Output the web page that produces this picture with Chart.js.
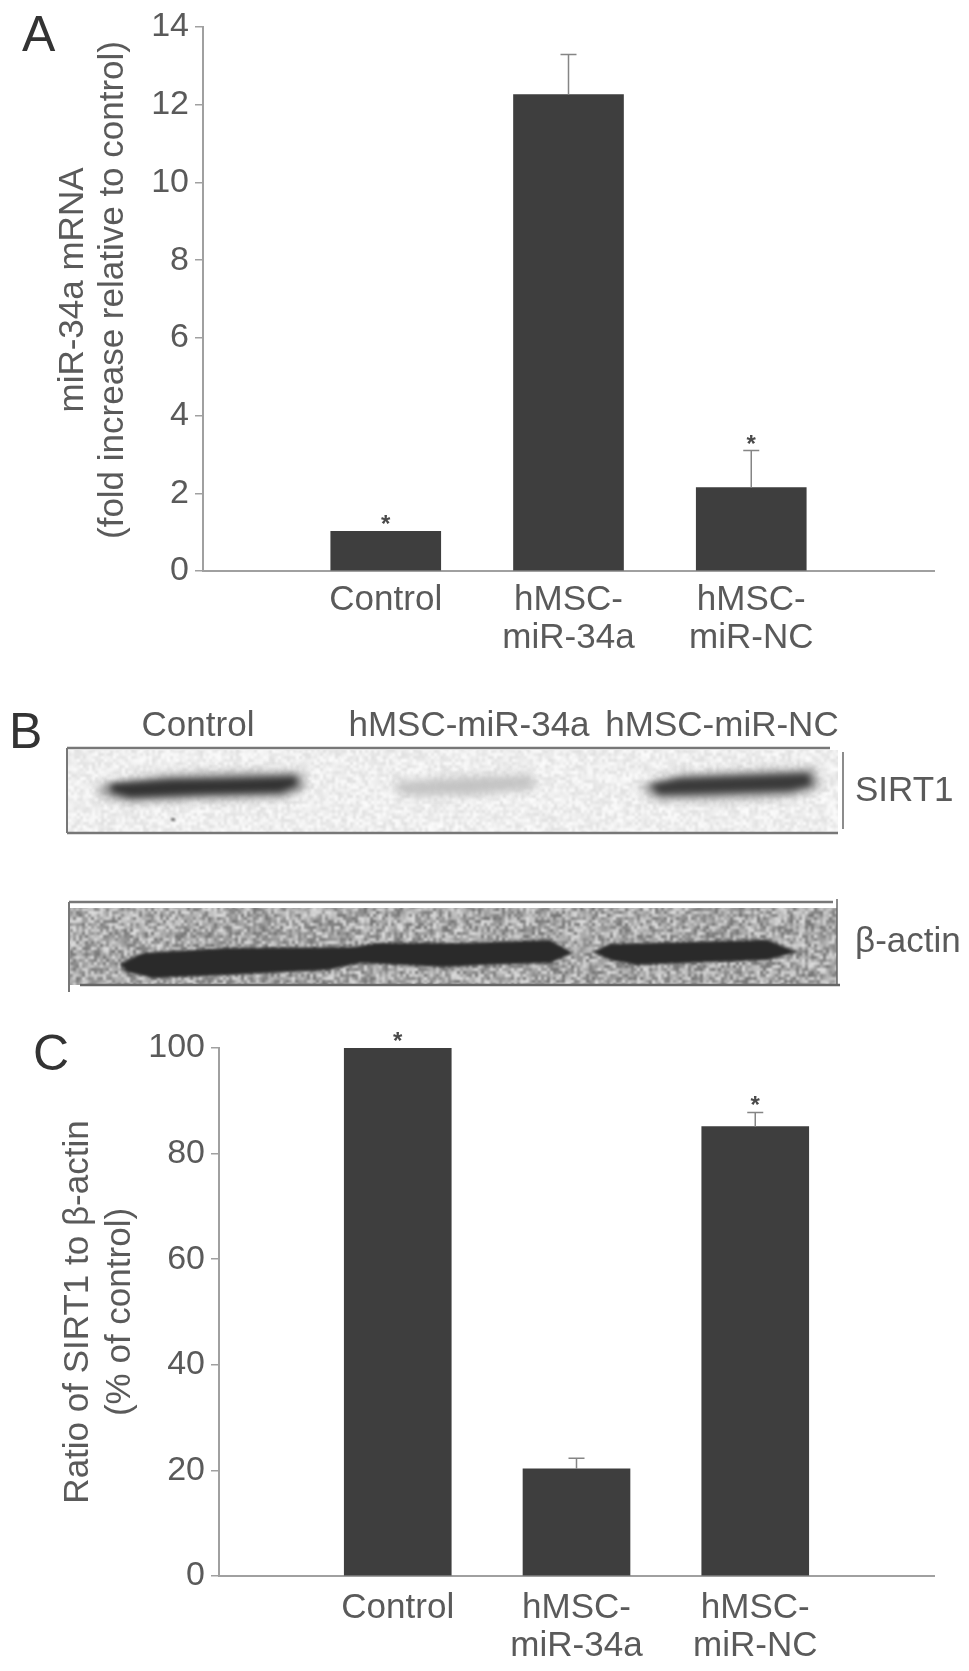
<!DOCTYPE html>
<html>
<head>
<meta charset="utf-8">
<title>miR-34a and SIRT1</title>
<script src="https://cdn.jsdelivr.net/npm/chart.js@4"></script>
<style>
  html, body { margin: 0; background: #fff; }
  #page { position: relative; width: 969px; height: 1671px; overflow: hidden; }
  canvas { position: absolute; left: 0; filter: blur(0.5px); }
</style>
</head>
<body>
<div id="page">
  <canvas id="chart-a" width="969" height="660" style="top:0"></canvas>
  <canvas id="blot" width="969" height="350" style="top:660px"></canvas>
  <canvas id="chart-c" width="969" height="661" style="top:1010px"></canvas>
</div>
<script>
const categories = ["", "Control", ["hMSC-", "miR-34a"], ["hMSC-", "miR-NC"], ""];

// panel A, fold increase
const valuesA = [null, 1.02, 12.26, 2.15, null];
const errTopA = [null, null, 13.29, 3.1, null];
const starsA = [false, true, false, true, false];
const ticksA = { max: 14, step: 2 };
const titleA = ["miR-34a mRNA", "(fold increase relative to control)"];

// panel C, % of control
const valuesC = [null, 100, 20.3, 85.1, null];
const errTopC = [null, null, 22.3, 87.8, null];
const starsC = [false, true, false, true, false];
const ticksC = { max: 100, step: 20 };
const titleC = ["Ratio of SIRT1 to β-actin", "(% of control)"];

const FONT = "'Liberation Sans', Arial, sans-serif";
const TEXT = "#5a5a5a";
const AXIS = "#a0a0a0";
const BAR = "#3e3e3e";

// whiskers, stars, rotated axis text and the panel letter
const extras = {
  id: "extras",
  afterDatasetsDraw(chart, args, o) {
    const { ctx } = chart;
    const x = chart.scales.x, y = chart.scales.y;
    ctx.save();
    ctx.strokeStyle = "#858585";
    ctx.lineWidth = 1.5;
    o.errTop.forEach((top, i) => {
      if (top == null) return;
      const px = x.getPixelForValue(i), py = y.getPixelForValue(top);
      ctx.beginPath();
      ctx.moveTo(px, y.getPixelForValue(o.values[i]));
      ctx.lineTo(px, py);
      ctx.moveTo(px - 8, py);
      ctx.lineTo(px + 8, py);
      ctx.stroke();
    });
    ctx.fillStyle = "#4a4a4a";
    ctx.font = "bold 24px " + FONT;
    ctx.textAlign = "center";
    ctx.textBaseline = "alphabetic";
    o.stars.forEach((on, i) => {
      if (!on) return;
      const top = o.errTop[i] ?? o.values[i];
      ctx.fillText("*", x.getPixelForValue(i), y.getPixelForValue(top) + 1);
    });
    ctx.restore();
  },
  afterDraw(chart, args, o) {
    const { ctx } = chart;
    ctx.save();
    ctx.fillStyle = TEXT;
    ctx.font = "35px " + FONT;
    ctx.textAlign = "center";
    ctx.textBaseline = "middle";
    o.title.forEach((line, i) => {
      ctx.save();
      ctx.translate(o.titleX[i], o.titleY);
      ctx.rotate(-Math.PI / 2);
      ctx.fillText(line, 0, 0);
      ctx.restore();
    });
    ctx.fillStyle = "#333";
    ctx.font = "50px " + FONT;
    ctx.textAlign = "left";
    ctx.textBaseline = "alphabetic";
    ctx.fillText(o.letter, o.letterX, o.letterY);
    ctx.restore();
  },
};

function makePanel(id, values, errTop, stars, ticks, title, geo) {
  return new Chart(document.getElementById(id), {
    type: "bar",
    data: {
      labels: categories,
      datasets: [{ data: values, backgroundColor: BAR, barThickness: geo.barWidth }],
    },
    options: {
      responsive: false,
      animation: false,
      layout: { padding: { top: geo.top, right: 35, bottom: 0, left: 0 } },
      plugins: {
        legend: { display: false },
        tooltip: { enabled: false },
        extras: { values, errTop, stars, title, ...geo.extras },
      },
      scales: {
        x: {
          offset: false,
          grid: { display: false, drawTicks: false },
          border: { color: AXIS, width: 2 },
          ticks: {
            autoSkip: false, maxRotation: 0, padding: geo.labelPad,
            color: TEXT, font: { family: FONT, size: 35, lineHeight: 1.07 },
          },
          afterFit: s => { s.height = geo.xHeight; },
        },
        y: {
          min: 0, max: ticks.max,
          grid: { drawOnChartArea: false, color: AXIS, lineWidth: 1.5, tickLength: 8 },
          border: { color: AXIS, width: 2 },
          ticks: {
            stepSize: ticks.step, padding: 6,
            color: TEXT, font: { family: FONT, size: 34 },
          },
          afterFit: s => { s.width = geo.left; },
        },
      },
    },
    plugins: [extras],
  });
}

makePanel("chart-a", valuesA, errTopA, starsA, ticksA, titleA, {
  top: 27, left: 203, xHeight: 89, barWidth: 110, labelPad: 11,
  extras: { titleX: [73, 113], titleY: 290, letter: "A", letterX: 22, letterY: 51 },
});

makePanel("chart-c", valuesC, errTopC, starsC, ticksC, titleC, {
  top: 38, left: 219, xHeight: 95, barWidth: 107, labelPad: 14,
  extras: { titleX: [78, 120], titleY: 302, letter: "C", letterX: 33, letterY: 60 },
});

// panel B is a photographed blot, not data: frames, soft bands and a grain texture
function grain(ctx, x0, y0, w, h, base, spread, blur) {
  const off = document.createElement("canvas");
  off.width = w + 12;
  off.height = h + 12;
  const g = off.getContext("2d");
  for (let y = 0; y < off.height; y += 3) {
    for (let x = 0; x < off.width; x += 3) {
      const n = Math.sin((x0 + x) * 12.9898 + (y0 + y) * 78.233) * 43758.5453;
      const v = Math.round(base + (n - Math.floor(n) - 0.5) * spread);
      g.fillStyle = `rgb(${v},${v},${v})`;
      g.fillRect(x, y, 3, 3);
    }
  }
  ctx.save();
  ctx.beginPath();
  ctx.rect(x0, y0, w, h);
  ctx.clip();
  ctx.filter = `blur(${blur}px)`;
  ctx.drawImage(off, x0 - 6, y0 - 6);
  ctx.restore();
}

function band(ctx, pts, color, blur) {
  ctx.save();
  ctx.filter = `blur(${blur}px)`;
  ctx.fillStyle = color;
  ctx.beginPath();
  pts.forEach(([x, y], i) => (i ? ctx.lineTo(x, y) : ctx.moveTo(x, y)));
  ctx.closePath();
  ctx.fill();
  ctx.restore();
}

function seg(ctx, x1, y1, x2, y2, color, width) {
  ctx.strokeStyle = color;
  ctx.lineWidth = width;
  ctx.beginPath();
  ctx.moveTo(x1, y1);
  ctx.lineTo(x2, y2);
  ctx.stroke();
}

function drawBlot() {
  const ctx = document.getElementById("blot").getContext("2d");
  ctx.translate(0, -660);

  grain(ctx, 68, 750, 770, 82, 238, 30, 1);
  band(ctx, [[96, 786], [170, 775], [230, 773], [300, 772], [306, 788], [285, 797],
    [200, 799], [130, 802], [104, 796]], "#8a8a8a", 5);
  band(ctx, [[110, 784], [170, 780], [230, 779], [295, 777], [297, 785], [280, 792],
    [200, 794], [130, 797], [112, 792]], "#333", 3);
  band(ctx, [[395, 782], [470, 777], [533, 775], [535, 789], [470, 795], [400, 795]], "#c2c2c2", 5);
  band(ctx, [[640, 786], [680, 775], [760, 771], [815, 769], [819, 788], [790, 796],
    [700, 799], [655, 799]], "#8a8a8a", 5);
  band(ctx, [[650, 785], [680, 779], [760, 776], [808, 774], [811, 785], [790, 790],
    [700, 793], [660, 794]], "#3a3a3a", 3);
  band(ctx, [[171, 818], [175, 818], [175, 821], [171, 821]], "#777", 1);
  seg(ctx, 67, 748, 830, 748, "#777", 2.5);
  seg(ctx, 67, 833, 838, 833, "#777", 2.5);
  seg(ctx, 67, 748, 67, 833, "#777", 2);
  seg(ctx, 843, 752, 843, 829, "#666", 1.5);

  grain(ctx, 70, 908, 767, 77, 168, 110, 1.2);
  band(ctx, [[120, 964], [143, 953], [227, 948], [353, 947], [377, 943], [460, 943], [550, 940],
    [573, 953], [550, 963], [483, 965], [443, 967], [360, 963], [327, 970], [227, 975],
    [153, 978], [127, 972]], "#2a2a2a", 1.5);
  band(ctx, [[593, 952], [610, 944], [683, 942], [767, 940], [797, 952], [767, 960],
    [683, 963], [637, 965], [610, 960]], "#2a2a2a", 1.5);
  seg(ctx, 69, 902, 833, 902, "#777", 2.5);
  seg(ctx, 80, 985, 840, 985, "#666", 2.5);
  seg(ctx, 69, 902, 69, 992, "#777", 2);
  seg(ctx, 837, 899, 837, 985, "#666", 1.5);

  ctx.fillStyle = TEXT;
  ctx.font = "35px " + FONT;
  ctx.textAlign = "center";
  ctx.textBaseline = "middle";
  ctx.fillText("Control", 198, 726);
  ctx.fillText("hMSC-miR-34a", 469, 726);
  ctx.fillText("hMSC-miR-NC", 722, 726);
  ctx.textAlign = "left";
  ctx.fillText("SIRT1", 855, 791);
  ctx.fillText("β-actin", 855, 942);
  ctx.fillStyle = "#333";
  ctx.font = "50px " + FONT;
  ctx.textBaseline = "alphabetic";
  ctx.fillText("B", 9, 748);
}

drawBlot();
</script>
</body>
</html>
